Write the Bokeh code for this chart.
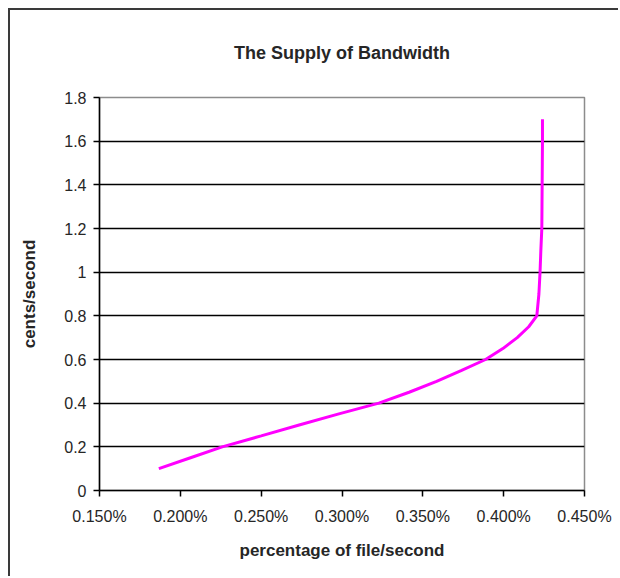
from bokeh.plotting import figure
from bokeh.models import Title, PrintfTickFormatter, FixedTicker
from bokeh.embed import file_html
from bokeh.resources import INLINE

# Supply curve: price (cents/second) against bandwidth supplied (% of file per second)
price_cents = [0.10, 0.15, 0.20, 0.25, 0.30, 0.35, 0.40, 0.45, 0.50, 0.55,
               0.60, 0.65, 0.70, 0.75, 0.80, 0.90, 1.00, 1.10, 1.20, 1.30,
               1.40, 1.50, 1.60, 1.70]
supply_pct = [0.1867, 0.2063, 0.2259, 0.2500, 0.2735, 0.2975, 0.3228, 0.3415,
              0.3585, 0.3740, 0.3888, 0.3995, 0.4084, 0.4155, 0.4205, 0.4218,
              0.4225, 0.4230, 0.4236, 0.4237, 0.4238, 0.4239, 0.4240, 0.4240]

x_ticks = [0.15, 0.20, 0.25, 0.30, 0.35, 0.40, 0.45]
y_ticks = [0, 0.2, 0.4, 0.6, 0.8, 1.0, 1.2, 1.4, 1.6, 1.8]
y_tick_labels = ["0", "0.2", "0.4", "0.6", "0.8", "1", "1.2", "1.4", "1.6", "1.8"]

FONT = "Liberation Sans"
TEXT = "#262626"

p = figure(width=610, height=568, output_backend="svg", toolbar_location=None,
           x_range=(0.15, 0.45), y_range=(0, 1.8),
           min_border_left=89, min_border_right=36,
           min_border_top=87, min_border_bottom=88,
           background_fill_color="white", border_fill_color="white")
p.margin = (8, 0, 0, 8)
p.styles = {"border-left": "2px solid #3a3a3a", "border-top": "2px solid #3a3a3a"}

p.title = Title(text="The Supply of Bandwidth", align="center", offset=-21,
                vertical_align="top",
                text_font=FONT, text_font_size="18px", text_font_style="bold",
                text_color=TEXT, standoff=65, text_line_height=1.0)

p.line(supply_pct, price_cents, line_color="#ff00ff", line_width=3)

# frame: grey outline, black horizontal gridlines
p.outline_line_color = "#8c8c8c"
p.outline_line_width = 1.5
p.xgrid.grid_line_color = None
p.ygrid.grid_line_color = "black"
p.ygrid.grid_line_width = 1.5

xa = p.below[0]
xa.ticker = FixedTicker(ticks=x_ticks)
xa.formatter = PrintfTickFormatter(format="%.3f%%")
xa.axis_label = "percentage of file/second"
xa.axis_label_standoff = 13
xa.major_label_standoff = 11

ya = p.left[0]
ya.ticker = FixedTicker(ticks=y_ticks)
ya.major_label_overrides = dict(zip(y_ticks, y_tick_labels))
ya.axis_label = "cents/second"
ya.axis_label_standoff = 22
ya.major_label_standoff = 7

for ax in (xa, ya):
    ax.axis_line_color = "black"
    ax.axis_line_width = 1.5
    ax.major_tick_line_color = "black"
    ax.major_tick_line_width = 1.5
    ax.major_tick_in = 0
    ax.major_tick_out = 6
    ax.minor_tick_line_color = None
    ax.major_label_text_font = FONT
    ax.major_label_text_font_size = "16px"
    ax.major_label_text_color = TEXT
    ax.axis_label_text_font = FONT
    ax.axis_label_text_font_size = "17px"
    ax.axis_label_text_font_style = "bold"
    ax.axis_label_text_color = TEXT

open("out.html", "w").write(file_html(p, INLINE))
